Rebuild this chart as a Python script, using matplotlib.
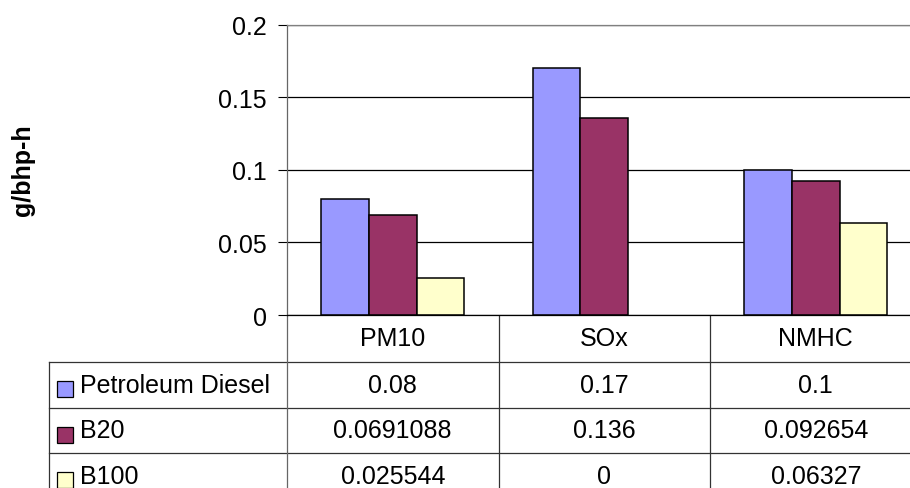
import matplotlib.pyplot as plt
from matplotlib.transforms import blended_transform_factory
from matplotlib.patches import Rectangle

plt.rcParams['font.family'] = ['Liberation Sans', 'DejaVu Sans']

# data
categories = ["PM10", "SOx", "NMHC"]
series = ["Petroleum Diesel", "B20", "B100"]
diesel = [0.08, 0.17, 0.1]
b20 = [0.0691088, 0.136, 0.092654]
b100 = [0.025544, 0, 0.06327]
table_text = [["0.08", "0.17", "0.1"],
              ["0.0691088", "0.136", "0.092654"],
              ["0.025544", "0", "0.06327"]]
yticks = [0, 0.05, 0.1, 0.15, 0.2]
colors = ["#9999FF", "#993366", "#FFFFCC"]

W, H = 910, 489
fig = plt.figure(figsize=(W / 100, H / 100), dpi=100)

# plot area in pixels: left 287, top 25.7, bottom 316, column width 211.5
left, top, bottom, colw = 287, 25.7, 316, 211.5
ax = fig.add_axes([left / W, 1 - bottom / H, 3 * colw / W, (bottom - top) / H])

bw = 0.2255
x = range(len(categories))
for k, vals in enumerate([diesel, b20, b100]):
    # zero-height bars show no outline in the original
    edges = ["black" if v > 0 else "none" for v in vals]
    ax.bar([i + (k - 1) * bw for i in x], vals, width=bw, color=colors[k],
           edgecolor=edges, linewidth=1.1, zorder=3)

ax.set_xlim(-0.5, len(categories) - 0.5)
ax.set_ylim(0, 0.2)
ax.set_yticks(yticks)
ax.set_yticklabels([f"{t:g}" for t in yticks])
ax.yaxis.grid(True, color="black", linewidth=0.9, zorder=0)
ax.set_xticks([])
ax.tick_params(axis="y", labelsize=18, length=6.5, width=0.8, pad=8)
ax.spines["right"].set_visible(False)
ax.spines["left"].set_color("#666666")
ax.spines["top"].set_color("#808080")
ax.spines["bottom"].set_color("black")
ax.spines["bottom"].set_zorder(4)
for s in ax.spines.values():
    s.set_linewidth(0.9)

fig.text(23 / W, 1 - 170 / H, "g/bhp-h", rotation=90, ha="center",
         va="center", fontsize=18, fontweight="bold")

# data table below the plot, drawn in an overlay (x: category units, y: pixels)
ov = fig.add_axes([0, 0, 1, 1], zorder=-1)
ov.set_xlim(0, W)
ov.set_ylim(H, 0)
ov.axis("off")
tr = blended_transform_factory(ax.transData, ov.transData)

row_y = [316, 363, 409, 454, 500]
lc = "#333333"
# horizontal lines
for y in row_y[1:4]:
    ov.plot([49, W], [y, y], color=lc, lw=0.9, clip_on=False)
# vertical lines
ov.plot([49, 49], [row_y[1], H], color=lc, lw=0.9)
ov.plot([left, left], [bottom, H], color="#666666", lw=0.9)
for b in [0.5, 1.5]:
    ov.plot([b, b], [bottom, H], color=lc, lw=0.9, transform=tr)

# header
for i, c in enumerate(categories):
    ov.text(i, (row_y[0] + row_y[1]) / 2, c, transform=tr, ha="center",
            va="center", fontsize=18)
# rows
for r, name in enumerate(series):
    yc = (row_y[r + 1] + row_y[r + 2]) / 2
    ov.add_patch(Rectangle((57, yc - 4), 16, 16, facecolor=colors[r],
                           edgecolor="black", lw=0.9))
    ov.text(80, yc, name, ha="left", va="center", fontsize=18)
    for i, t in enumerate(table_text[r]):
        ov.text(i, yc, t, transform=tr, ha="center", va="center", fontsize=18)

fig.savefig("out.png", dpi=100)
